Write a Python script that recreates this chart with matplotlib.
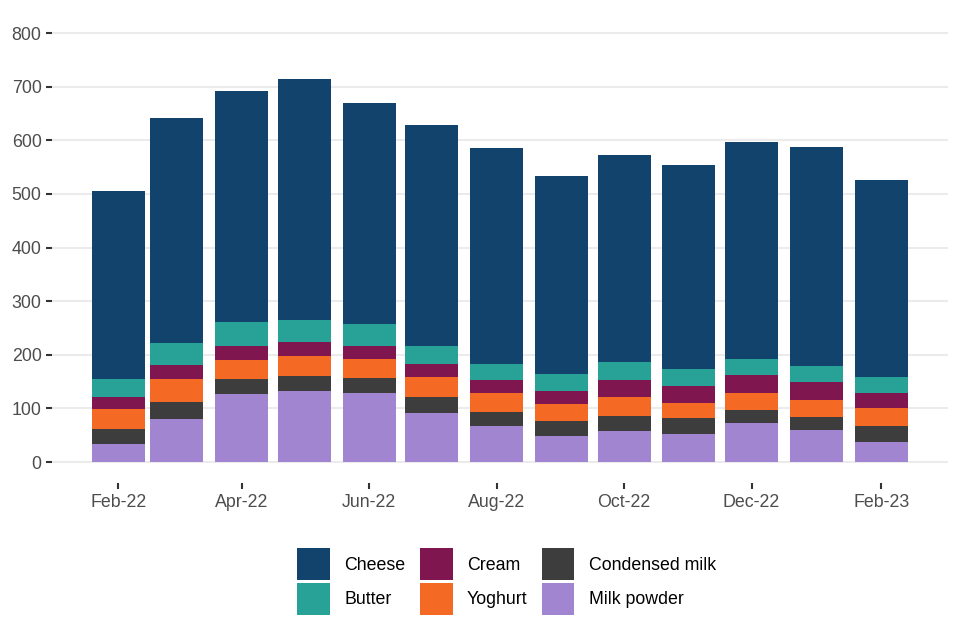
import matplotlib
matplotlib.use("Agg")
import matplotlib.pyplot as plt
import matplotlib.dates as mdates
from matplotlib.patches import Patch
import datetime as dt
import numpy as np

plt.rcParams['font.family'] = ['Liberation Sans', 'DejaVu Sans']

months = ["2022-02", "2022-03", "2022-04", "2022-05", "2022-06", "2022-07", "2022-08",
          "2022-09", "2022-10", "2022-11", "2022-12", "2023-01", "2023-02"]
milk_powder = [33, 80, 127, 132, 128, 91, 67, 48, 58, 52, 73, 60, 37]
condensed_milk = [28, 32, 28, 28, 28, 30, 26, 28, 28, 30, 24, 24, 30]
yoghurt = [37, 43, 35, 37, 36, 37, 36, 32, 35, 28, 32, 32, 34]
cream = [24, 26, 26, 26, 24, 25, 24, 24, 32, 32, 33, 33, 28]
butter = [33, 41, 45, 41, 41, 33, 30, 32, 33, 31, 30, 30, 30]
cheese = [350, 419, 430, 451, 412, 413, 402, 370, 386, 380, 404, 408, 367]

series = [("Milk powder", milk_powder, "#A285D1"),
          ("Condensed milk", condensed_milk, "#3D3D3D"),
          ("Yoghurt", yoghurt, "#F46A25"),
          ("Cream", cream, "#801650"),
          ("Butter", butter, "#28A197"),
          ("Cheese", cheese, "#12436D")]

dates = [dt.datetime.strptime(m, "%Y-%m") for m in months]
x = mdates.date2num(dates)

fig = plt.figure(figsize=(9.6, 6.4), dpi=100)
ax = fig.add_axes([52/960, 1 - 483.45/640, 896/960, 0.73734])

bottom = np.zeros(len(x))
handles = {}
for name, vals, col in series:
    v = np.array(vals, dtype=float)
    ax.bar(x, v, bottom=bottom, width=25.4, color=col, align='center', zorder=3, linewidth=0)
    handles[name] = Patch(facecolor=col, edgecolor='none')
    bottom += v

ax.set_ylim(-40, 840)
ax.set_xlim(x[0] - 31.8, x[-1] + 32)
ax.set_yticks([0, 100, 200, 300, 400, 500, 600, 700, 800])
tick_dates = dates[::2]
ax.set_xticks(mdates.date2num(tick_dates))
ax.set_xticklabels([d.strftime("%b-%y") for d in tick_dates])
ax.grid(axis='y', color='#EBEBEB', linewidth=1.5, zorder=0)
ax.grid(axis='x', visible=False)
for s in ax.spines.values():
    s.set_visible(False)
ax.tick_params(axis='both', colors='#333333', labelcolor='#4D4D4D', labelsize=12.8,
               length=4, width=1.5, pad=3.5)

order = ["Cheese", "Butter", "Cream", "Yoghurt", "Condensed milk", "Milk powder"]
leg = fig.legend([handles[n] for n in order], order, ncol=3, loc='center',
                 bbox_to_anchor=(506.5/960, 1 - 581.5/640), frameon=False,
                 fontsize=12.8, handlelength=1.85, handleheight=2.4,
                 handletextpad=0.8, columnspacing=0.8, labelspacing=0.15,
                 borderaxespad=0)

fig.savefig("out.png", dpi=100)
